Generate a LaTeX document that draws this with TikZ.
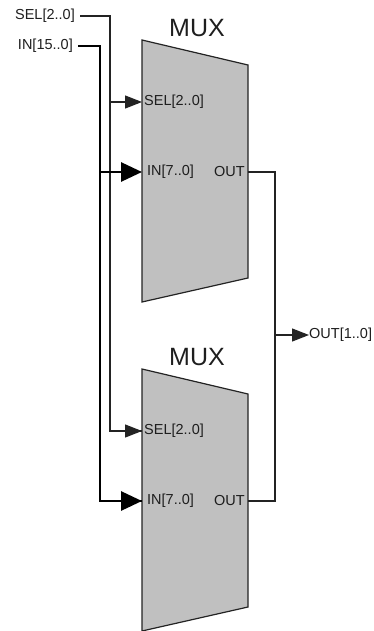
\documentclass[tikz,border=0pt]{standalone}
\usepackage{fontspec}
\setmainfont{Liberation Sans}
\usepackage{xcolor}
\usepackage{tikz}
\usetikzlibrary{arrows.meta}

\definecolor{muxgray}{RGB}{192,192,192}
\definecolor{wiregray}{RGB}{35,35,35}
\definecolor{textgray}{RGB}{30,30,30}

\tikzset{
  muxbody/.style={fill=muxgray, draw=wiregray, line width=1.2pt},
  thinwire/.style={draw=wiregray, line width=1.3pt},
  buswire/.style={draw=black, line width=2.8pt},
  selhead/.style={-{Triangle[length=17pt,width=13pt]}},
  inhead/.style={-{Triangle[length=21pt,width=19pt]}},
  portlabel/.style={inner sep=0pt, text=textgray, font=\fontsize{14.5}{16}\selectfont},
  muxlabel/.style={inner sep=0pt, text=textgray, font=\fontsize{25}{28}\selectfont}
}

\begin{document}
\begin{tikzpicture}[x=1pt,y=-1pt]
\useasboundingbox (0,0) rectangle (374,631);

% the two multiplexers
\foreach \m/\dy in {A/0, B/329} {
  \begin{scope}[shift={(0,\dy)}]
    \draw[muxbody] (142,40) -- (248,65) -- (248,278) -- (142,302) -- cycle;
    \node[muxlabel] (mux\m) at (197,28) {MUX};
    \coordinate (sel\m) at (142,102);
    \coordinate (in\m) at (142,172);
    \coordinate (out\m) at (248,172);
    \node[portlabel, anchor=west] (sel\m txt) at (144,102) {SEL[2..0]};
    \node[portlabel, anchor=west] (in\m txt) at (147,172) {IN[7..0]};
    \node[portlabel, anchor=east] (out\m txt) at (245,172) {OUT};
  \end{scope}
}

% inputs
\node[portlabel, anchor=east] (selsrc) at (75,16) {SEL[2..0]};
\node[portlabel, anchor=east] (insrc) at (73,46) {IN[15..0]};
\coordinate (selbus) at (110,16);
\coordinate (inbus) at (100,46);

\draw[thinwire] (selsrc.east) ++(5,0) -- (selbus) |- (selB);
\draw[thinwire, selhead] (selbus |- selA) -- (selA);
\draw[thinwire, selhead] (selbus |- selB) ++(0.6,0) -- (selB);
\draw[buswire] (insrc.east) ++(5,0) -- (inbus) |- (inB);
\draw[buswire, inhead] (inbus |- inA) -- (inA);
\draw[buswire, inhead] (inbus |- inB) ++(1.3,0) -- (inB);

% output
\coordinate (outbus) at (275,335);
\node[portlabel, anchor=west] (outdst) at (309,335) {OUT[1..0]};
\draw[thinwire] (outA) -| (outbus) |- (outB);
\draw[thinwire, selhead] (outbus) -- (outdst.west);
\end{tikzpicture}
\end{document}
